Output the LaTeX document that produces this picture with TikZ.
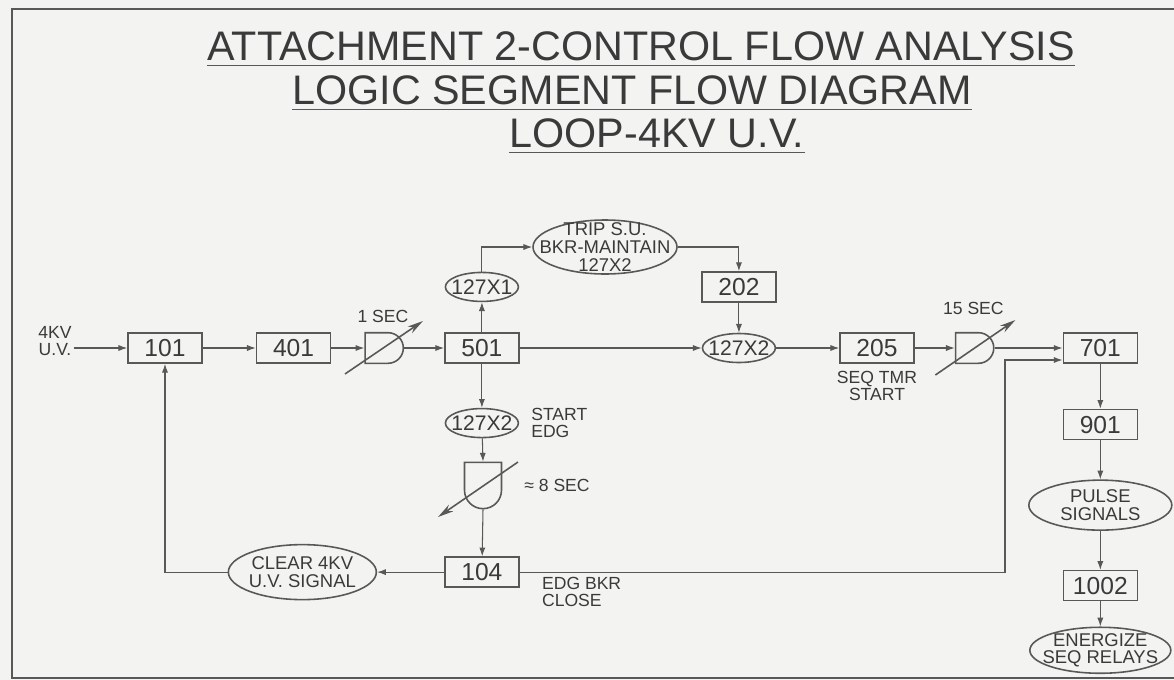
\documentclass[tikz,border=0pt]{standalone}
\usepackage{fontspec}
\setmainfont{Liberation Sans}
\usetikzlibrary{shapes.geometric,shapes.gates.logic.US,arrows.meta,positioning}
\definecolor{Ink}{HTML}{3A3A3A}
\definecolor{Wire}{HTML}{585858}
\definecolor{Paper}{HTML}{F3F3F1}

\begin{document}
\begin{tikzpicture}[x=0.02cm, y=-0.02cm, every node/.style={text=Ink},
  blk/.style={rectangle, draw=Wire, line width=0.9pt, minimum width=1.48cm, minimum height=0.6cm, inner sep=0pt, font=\fontsize{14}{14}\selectfont},
  oval/.style={ellipse, draw=Wire, line width=0.9pt, inner xsep=-6pt, inner ysep=0pt, minimum width=1.46cm, minimum height=0.58cm, font=\fontsize{12}{12}\selectfont},
  bigoval/.style={ellipse, draw=Wire, line width=0.9pt, inner xsep=-20pt, inner ysep=-8pt, align=center, font=\fontsize{10.5}{10.2}\selectfont},
  delay/.style={and gate US, draw=Wire, line width=0.9pt, minimum width=0.68cm, minimum height=0.6cm, inner sep=0pt},
  lbl/.style={font=\fontsize{10}{9.6}\selectfont, align=center, inner sep=1pt},
  conn/.style={draw=Wire, line width=0.6pt, -{Latex[length=5pt,width=3.5pt]}},
  adj/.style={draw=Wire, line width=0.9pt, -{Stealth[length=9pt,width=4.5pt]}},
  ttl/.style={font=\fontsize{23.5}{23.5}\selectfont, inner sep=0pt}]

  \path[use as bounding box, fill=Paper] (0,0) rectangle (1174,680);
  \draw[Wire, line width=1pt] (1174,9) -- (12,9) -- (12,678) -- (1174,678);

  % title
  \node[ttl] (ti1) at (641,46) {ATTACHMENT 2-CONTROL FLOW ANALYSIS};
  \node[ttl] (ti2) at (632,90) {LOGIC SEGMENT FLOW DIAGRAM};
  \node[ttl] (ti3) at (657,133) {LOOP-4KV U.V.};
  \foreach \t in {ti1,ti2,ti3}
    \draw[Wire, line width=0.8pt] ([yshift=-2.5pt]\t.south west) -- ([yshift=-2.5pt]\t.south east);

  % main row
  \node[blk] (b101) at (165,348) {101};
  \node[blk, right=1.06cm of b101] (b401) {401};
  \node[delay, right=0.66cm of b401] (g1) {};
  \node[blk, right=0.8cm of g1] (b501) {501};
  \node[oval, right=3.64cm of b501] (x2b) {127X2};
  \node[blk, right=1.26cm of x2b] (b205) {205};
  \node[delay, right=0.8cm of b205] (g2) {};
  \node[blk, right=1.36cm of g2] (b701) {701};

  % upper branch
  \node[oval, above=0.6cm of b501] (x1) {127X1};
  \node[bigoval, minimum width=2.88cm, minimum height=1.08cm] (trip) at (605,247) {TRIP S.U.\\BKR-MAINTAIN\\127X2};
  \node[blk, above=0.6cm of x2b] (b202) {202};

  % lower branch
  \node[oval, below=0.88cm of b501] (x2c) {127X2};
  \node[delay, rotate=-90, minimum width=0.74cm, minimum height=0.74cm] (g3) at (483,484) {};
  \node[blk, below=2.36cm of x2c] (b104) {104};
  \node[bigoval, minimum width=2.96cm, minimum height=1.1cm, left=1.34cm of b104] (clr) {CLEAR 4KV\\U.V. SIGNAL};

  % right column
  \node[blk, below=0.9cm of b701] (b901) {901};
  \node[bigoval, minimum width=2.86cm, minimum height=1.0cm, below=0.78cm of b901] (pulse) {PULSE\\SIGNALS};
  \node[blk, below=0.78cm of pulse] (b1002) {1002};
  \node[bigoval, minimum width=2.82cm, minimum height=0.92cm, below=0.5cm of b1002] (ener) {ENERGIZE\\SEQ RELAYS};

  % labels
  \node[lbl] (inp) at (55,341) {4KV\\U.V.};
  \node[lbl, above=0.15cm of g1] (t1) {1 SEC};
  \node[lbl, above=0.3cm of g2] (t2) {15 SEC};
  \node[lbl, below=0.1cm of b205] (t3) {SEQ TMR\\START};
  \node[lbl, align=left, right=0.2cm of x2c] (t4) {START\\EDG};
  \node[lbl] (t5) at (557,485) {≈ 8 SEC};
  \node[lbl, align=left, anchor=north west] (t6) at (540,575) {EDG BKR\\CLOSE};
  \coordinate (turn) at (1005,360);

  % connectors
  \draw[conn] (inp.east |- b101.west) -- (b101.west);
  \draw[conn] (b101) -- (b401);
  \draw[conn] (b401) -- (g1.west);
  \draw[conn] (g1.east) -- (b501);
  \draw[conn] (b501) -- (x2b);
  \draw[conn] (x2b) -- (b205);
  \draw[conn] (b205) -- (g2.west);
  \draw[conn] (g2.east) -- (g2.east -| b701.west);
  \draw[conn] (b501) -- (x1);
  \draw[conn] (x1.north) |- (trip.west);
  \draw[conn] (trip.east) -| (b202.north);
  \draw[conn] (b202) -- (x2b);
  \draw[conn] (b501) -- (x2c);
  \draw[conn] (x2c) -- (g3.west);
  \draw[conn] (g3.east) -- (b104);
  \draw[conn] (b104) -- (clr);
  \draw[conn] (clr.west) -| (b101.south);
  \draw[conn] (b104.east) -| (turn) -- (turn -| b701.west);
  \draw[conn] (b701) -- (b901);
  \draw[conn] (b901) -- (pulse);
  \draw[conn] (pulse) -- (b1002);
  \draw[conn] (b1002) -- (ener);

  % timer adjust arrows
  \draw[adj] ([shift={(-38,26)}]g1.center) -- ([shift={(40,-27)}]g1.center);
  \draw[adj] ([shift={(-38,27)}]g2.center) -- ([shift={(42,-28)}]g2.center);
  \draw[adj] ([shift={(35,-22)}]g3.center) -- ([shift={(-45,33)}]g3.center);
\end{tikzpicture}
\end{document}
